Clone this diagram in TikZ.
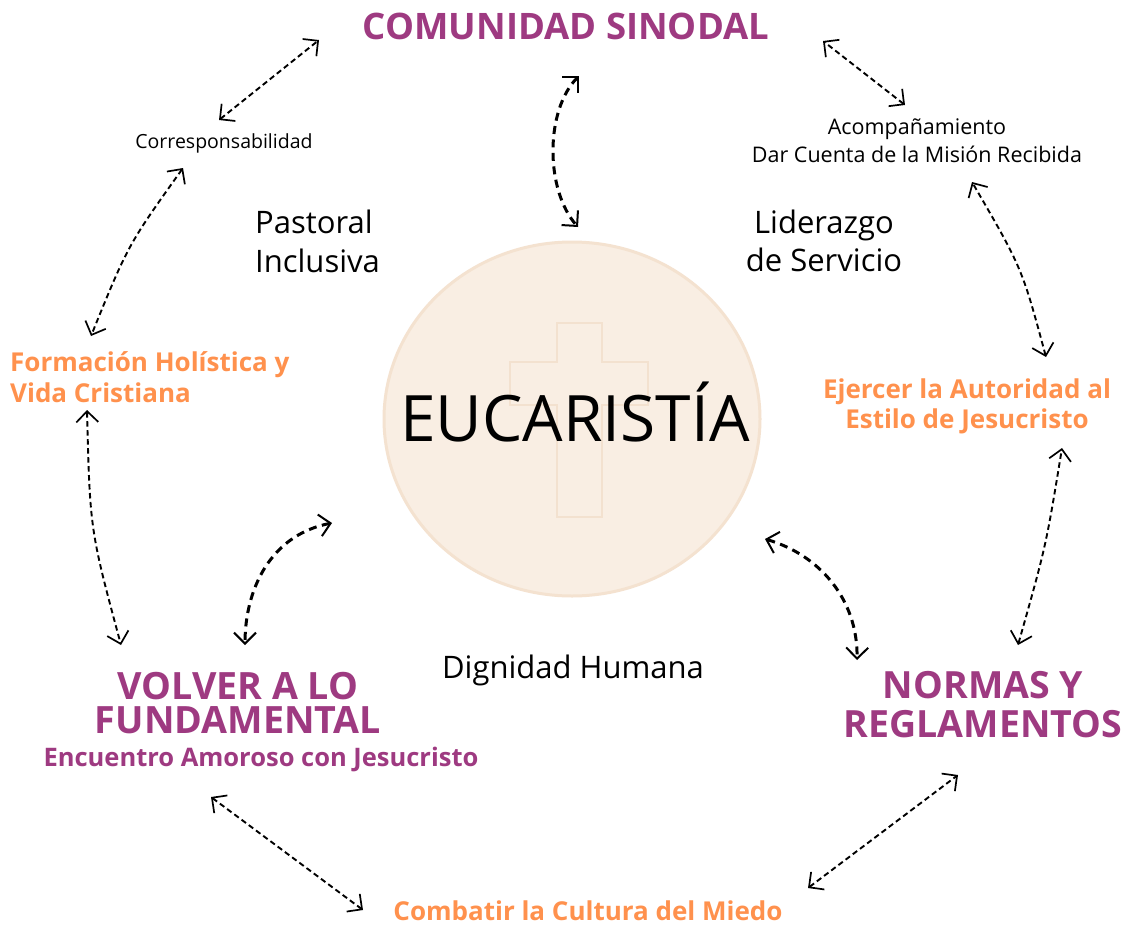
\documentclass[tikz,border=0pt]{standalone}
\usepackage{fontspec}
\setmainfont{Open Sans}
\usetikzlibrary{arrows.meta}
\definecolor{plum}{HTML}{9E3A81}
\definecolor{tang}{HTML}{FF914D}
\definecolor{host}{HTML}{F9EEE3}
\definecolor{hostedge}{HTML}{F4E2D0}
\definecolor{crossline}{HTML}{F3E1CF}
\begin{document}
\begin{tikzpicture}[x=1pt,y=-1pt,
  barb/.tip={Straight Barb[length=11pt,width=22pt,line width=1.7pt]},
  outer/.style={line width=1.9pt, dash pattern=on 5.5pt off 3.5pt, barb-barb},
  inner/.style={line width=3pt, dash pattern=on 8pt off 5.5pt, {Straight Barb[length=11pt,width=22pt,line width=2pt]}-{Straight Barb[length=11pt,width=22pt,line width=2pt]}},
  txt/.style={inner sep=0pt, text=black},
  hd/.style={inner sep=0pt, text=plum, font=\bfseries},
  sub/.style={inner sep=0pt, text=tang, font=\bfseries}]
\useasboundingbox[fill=white] (0,0) rectangle (1129,926);

% host
\draw[hostedge, fill=host, line width=3pt] (572,419) ellipse [x radius=188, y radius=177];
\draw[crossline, line width=2.5pt] (557,323) -- (602,323) -- (602,362) -- (648,362) -- (648,405) -- (602,405) -- (602,517) -- (557,517) -- (557,405) -- (510,405) -- (510,362) -- (557,362) -- cycle;

% texts
\node[hd, font=\bfseries\fontsize{36.5}{40}\selectfont] (cs) at (566,26) {COMUNIDAD SINODAL};
\node[txt, font=\fontsize{19.5}{24}\selectfont] (corr) at (224,143) {Corresponsabilidad};
\node[txt, align=center, font=\fontsize{21.5}{28}\selectfont] (acomp) at (917,141) {Acompañamiento\\Dar Cuenta de la Misión Recibida};
\node[txt, anchor=west, align=left, font=\fontsize{31}{39}\selectfont] (past) at (255,241) {Pastoral\\Inclusiva};
\node[txt, align=center, font=\fontsize{31}{38}\selectfont] (lid) at (824,241) {Liderazgo\\de Servicio};
\node[sub, anchor=west, align=left, font=\bfseries\fontsize{26}{31}\selectfont] (form) at (10,377) {Formación Holística y\\Vida Cristiana};
\node[txt, font=\fontsize{64}{70}\selectfont] (euc) at (575,412) {EUCARISTÍA};
\node[sub, align=center, font=\bfseries\fontsize{26}{30}\selectfont] (ejer) at (967,406) {Ejercer la Autoridad al\\Estilo de Jesucristo};
\node[hd, align=center, font=\bfseries\fontsize{37.6}{34}\selectfont] (volver) at (238,703) {VOLVER A LO\\FUNDAMENTAL};
\node[hd, font=\bfseries\fontsize{25.5}{30}\selectfont] (enc) at (261,759) {Encuentro Amoroso con Jesucristo};
\node[txt, font=\fontsize{31}{36}\selectfont] (dig) at (573,670) {Dignidad Humana};
\node[hd, align=center, font=\bfseries\fontsize{37.5}{39}\selectfont] (normas) at (983,705) {NORMAS Y\\REGLAMENTOS};
\node[sub, font=\bfseries\fontsize{26}{30}\selectfont] (comb) at (588,911) {Combatir la Cultura del Miedo};

% arrow end points
\coordinate (o1a) at (219,120); \coordinate (o1b) at (319,40);
\coordinate (o2a) at (183,168); \coordinate (o2b) at (91,336);
\coordinate (o3a) at (87,410);  \coordinate (o3b) at (121,645);
\coordinate (o4a) at (211,797); \coordinate (o4b) at (363,910);
\coordinate (o5a) at (808,888); \coordinate (o5b) at (958,775);
\coordinate (o6a) at (1018,645); \coordinate (o6b) at (1062,448);
\coordinate (o7a) at (1046,357); \coordinate (o7b) at (972,182);
\coordinate (o8a) at (905,105); \coordinate (o8b) at (823,41);
\coordinate (i1a) at (579,76);  \coordinate (i1b) at (578,227);
\coordinate (i2a) at (332,523); \coordinate (i2b) at (245,645);
\coordinate (i3a) at (765,539); \coordinate (i3b) at (857,660);

% outer arrows
\draw[outer] (o1a) -- (o1b);
\draw[outer] (o2a) .. controls (128,245) .. (o2b);
\draw[outer] (o3a) .. controls (90,530) .. (o3b);
\draw[outer] (o4a) -- (o4b);
\draw[outer] (o5a) -- (o5b);
\draw[outer] (o6a) .. controls (1046,546) .. (o6b);
\draw[outer] (o7a) .. controls (1022,268) .. (o7b);
\draw[outer] (o8a) -- (o8b);

% inner arrows
\draw[inner] (i1a) .. controls (545,110) and (545,190) .. (i1b);
\draw[inner] (i2a) .. controls (270,535) and (245,590) .. (i2b);
\draw[inner] (i3a) .. controls (820,555) and (858,600) .. (i3b);
\end{tikzpicture}
\end{document}
